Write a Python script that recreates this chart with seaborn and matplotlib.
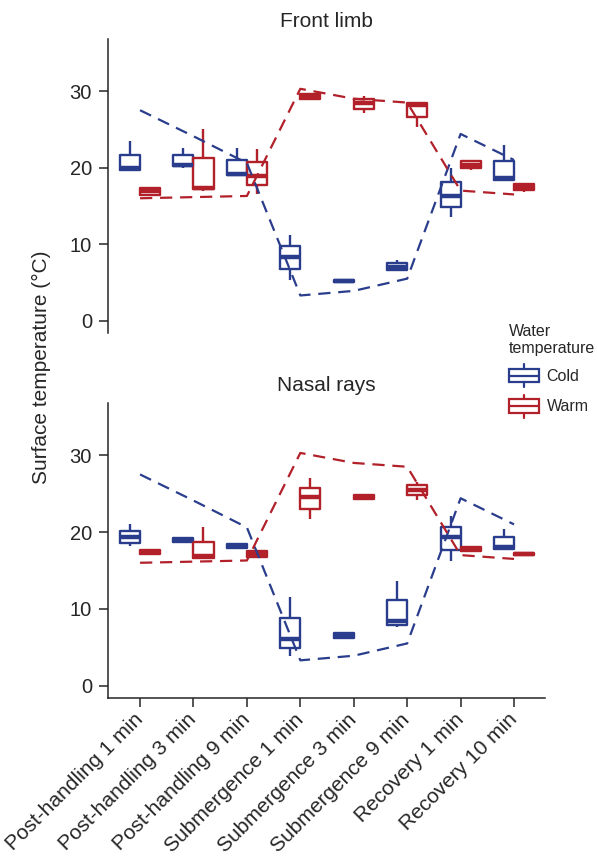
import matplotlib
matplotlib.use("Agg")
import matplotlib.pyplot as plt
import numpy as np
import pandas as pd
import seaborn as sns
from matplotlib.legend_handler import HandlerBase
from matplotlib.patches import Rectangle
from matplotlib.lines import Line2D

stages = ["Post-handling 1 min", "Post-handling 3 min", "Post-handling 9 min",
          "Submergence 1 min", "Submergence 3 min", "Submergence 9 min",
          "Recovery 1 min", "Recovery 10 min"]
groups = ["Cold", "Warm"]

# five-number summaries per stage: min, q1, median, q3, max
front_cold = [[19.7, 19.7, 19.9, 21.6, 23.5], [20.0, 20.2, 20.4, 21.6, 22.6],
              [19.0, 19.0, 19.2, 21.0, 22.6], [5.3, 6.7, 8.3, 9.8, 11.2],
              [5.0, 5.05, 5.2, 5.35, 5.4], [6.5, 6.6, 7.05, 7.6, 7.9],
              [13.6, 14.9, 16.3, 18.1, 19.9], [18.4, 18.4, 18.7, 20.85, 23.0]]
front_warm = [[16.3, 16.4, 17.0, 17.4, 17.5], [16.9, 17.2, 17.4, 21.3, 25.1],
              [16.6, 17.7, 18.9, 20.7, 22.4], [28.9, 29.0, 29.3, 29.6, 29.7],
              [27.2, 27.6, 28.4, 29.0, 29.3], [25.3, 26.6, 28.2, 28.4, 28.5],
              [19.7, 20.0, 20.4, 20.85, 20.9], [16.8, 17.1, 17.45, 17.8, 17.8]]
nasal_cold = [[18.2, 18.6, 19.35, 20.2, 21.0], [18.7, 18.75, 19.0, 19.25, 19.3],
              [17.9, 17.95, 18.2, 18.45, 18.5], [3.9, 4.9, 6.05, 8.8, 11.5],
              [6.2, 6.25, 6.5, 6.85, 6.9], [7.6, 7.9, 8.4, 11.1, 13.6],
              [16.2, 17.7, 19.4, 20.7, 22.1], [17.8, 17.8, 18.0, 19.3, 20.35]]
nasal_warm = [[17.1, 17.15, 17.4, 17.65, 17.7], [16.65, 16.65, 16.9, 18.7, 20.65],
              [16.7, 16.8, 17.2, 17.5, 17.6], [21.65, 23.0, 24.6, 25.8, 27.0],
              [24.3, 24.35, 24.6, 24.85, 24.9], [24.2, 24.8, 25.5, 26.1, 26.5],
              [17.5, 17.55, 17.8, 18.05, 18.1], [16.9, 16.95, 17.1, 17.25, 17.3]]

# water temperature (dashed lines)
water_cold = [27.5, 24.1, 20.6, 3.3, 3.9, 5.5, 24.4, 21.0]
water_warm = [16.0, 16.15, 16.3, 30.3, 29.0, 28.5, 17.0, 16.5]

colors = {"Cold": "#2a3d8c", "Warm": "#b2202a"}
ink = "#262626"

sns.set_theme(style="ticks")
plt.rcParams["font.family"] = ["Liberation Sans", "DejaVu Sans"]


def long_table(cold, warm):
    rows = []
    for grp, stats in (("Cold", cold), ("Warm", warm)):
        for stage, five in zip(stages, stats):
            for v in five:
                rows.append({"stage": stage, "group": grp, "temp": v})
    return pd.DataFrame(rows)


water = pd.DataFrame({
    "pos": list(range(len(stages))) * 2,
    "group": ["Cold"] * len(stages) + ["Warm"] * len(stages),
    "temp": water_cold + water_warm,
})


class BoxHandler(HandlerBase):
    def create_artists(self, legend, orig_handle, xdescent, ydescent,
                       width, height, fontsize, trans):
        c = orig_handle.get_edgecolor()
        x0, y0 = -xdescent, -ydescent
        bh = 0.6 * height
        yb = y0 + (height - bh) / 2
        xm = x0 + width / 2
        rect = Rectangle((x0, yb), width, bh, fill=False, edgecolor=c,
                         lw=1.6, transform=trans)
        med = Line2D([x0, x0 + width], [y0 + height / 2] * 2, color=c, lw=1.6, transform=trans)
        wlo = Line2D([xm, xm], [y0, yb], color=c, lw=1.6, transform=trans)
        whi = Line2D([xm, xm], [yb + bh, y0 + height], color=c, lw=1.6, transform=trans)
        return [rect, med, wlo, whi]


fig = plt.figure(figsize=(5.98, 8.58), dpi=100)
ax1 = fig.add_axes([0.1806, 0.6119, 0.7308, 0.3426])
ax2 = fig.add_axes([0.1806, 0.1865, 0.7308, 0.3438])

panels = [(ax1, "Front limb", front_cold, front_warm),
          (ax2, "Nasal rays", nasal_cold, nasal_warm)]

for ax, title, cold, warm in panels:
    sns.boxplot(data=long_table(cold, warm), x="stage", y="temp", hue="group",
                order=stages, hue_order=groups, palette=colors, fill=False,
                width=0.75, whis=(0, 100), showcaps=False, linewidth=1.7,
                medianprops={"linewidth": 3.2}, legend=False, ax=ax)
    sns.lineplot(data=water, x="pos", y="temp", hue="group", hue_order=groups,
                 palette=colors, linewidth=1.6, linestyle=(0, (5.5, 3.5)),
                 legend=False, ax=ax, zorder=3)
    ax.set_xlim(-0.6, 7.58)
    ax.set_ylim(-1.6, 36.8)
    ax.set_yticks([0, 10, 20, 30])
    ax.set_xlabel("")
    ax.set_ylabel("")
    ax.set_title(title, fontsize=15, pad=8.5, color=ink)
    ax.tick_params(length=6.5, width=1.1, color=ink, labelsize=14.5,
                   labelcolor=ink, pad=5)
    for s in ax.spines.values():
        s.set_linewidth(1.1)
        s.set_color(ink)

sns.despine(ax=ax1, bottom=True)
ax1.set_xticks([])
sns.despine(ax=ax2)
ax2.set_xticks(range(len(stages)))
ax2.set_xticklabels(stages, rotation=45, ha="right", va="center",
                    rotation_mode="anchor", fontsize=15)
ax2.tick_params(axis="x", pad=7)

fig.text(0.07, 0.572, "Surface temperature (\u00b0C)", rotation=90,
         ha="center", va="center", fontsize=15, color=ink)

handles = [Rectangle((0, 0), 1, 1, fill=False, edgecolor=colors[g]) for g in groups]
leg = fig.legend(handles, groups, handler_map={Rectangle: BoxHandler()},
                 title="Water\ntemperature", loc="upper left",
                 bbox_to_anchor=(509 / 598, 1 - 324 / 858), frameon=False,
                 fontsize=11.5, title_fontsize=11.5, alignment="left",
                 handlelength=1.85, handleheight=1.8, handletextpad=0.5,
                 labelspacing=0.5, borderpad=0, borderaxespad=0)
leg.get_title().set_multialignment("left")
leg.get_title().set_color(ink)
for t in leg.get_texts():
    t.set_color(ink)

fig.savefig("out.png", dpi=100)
